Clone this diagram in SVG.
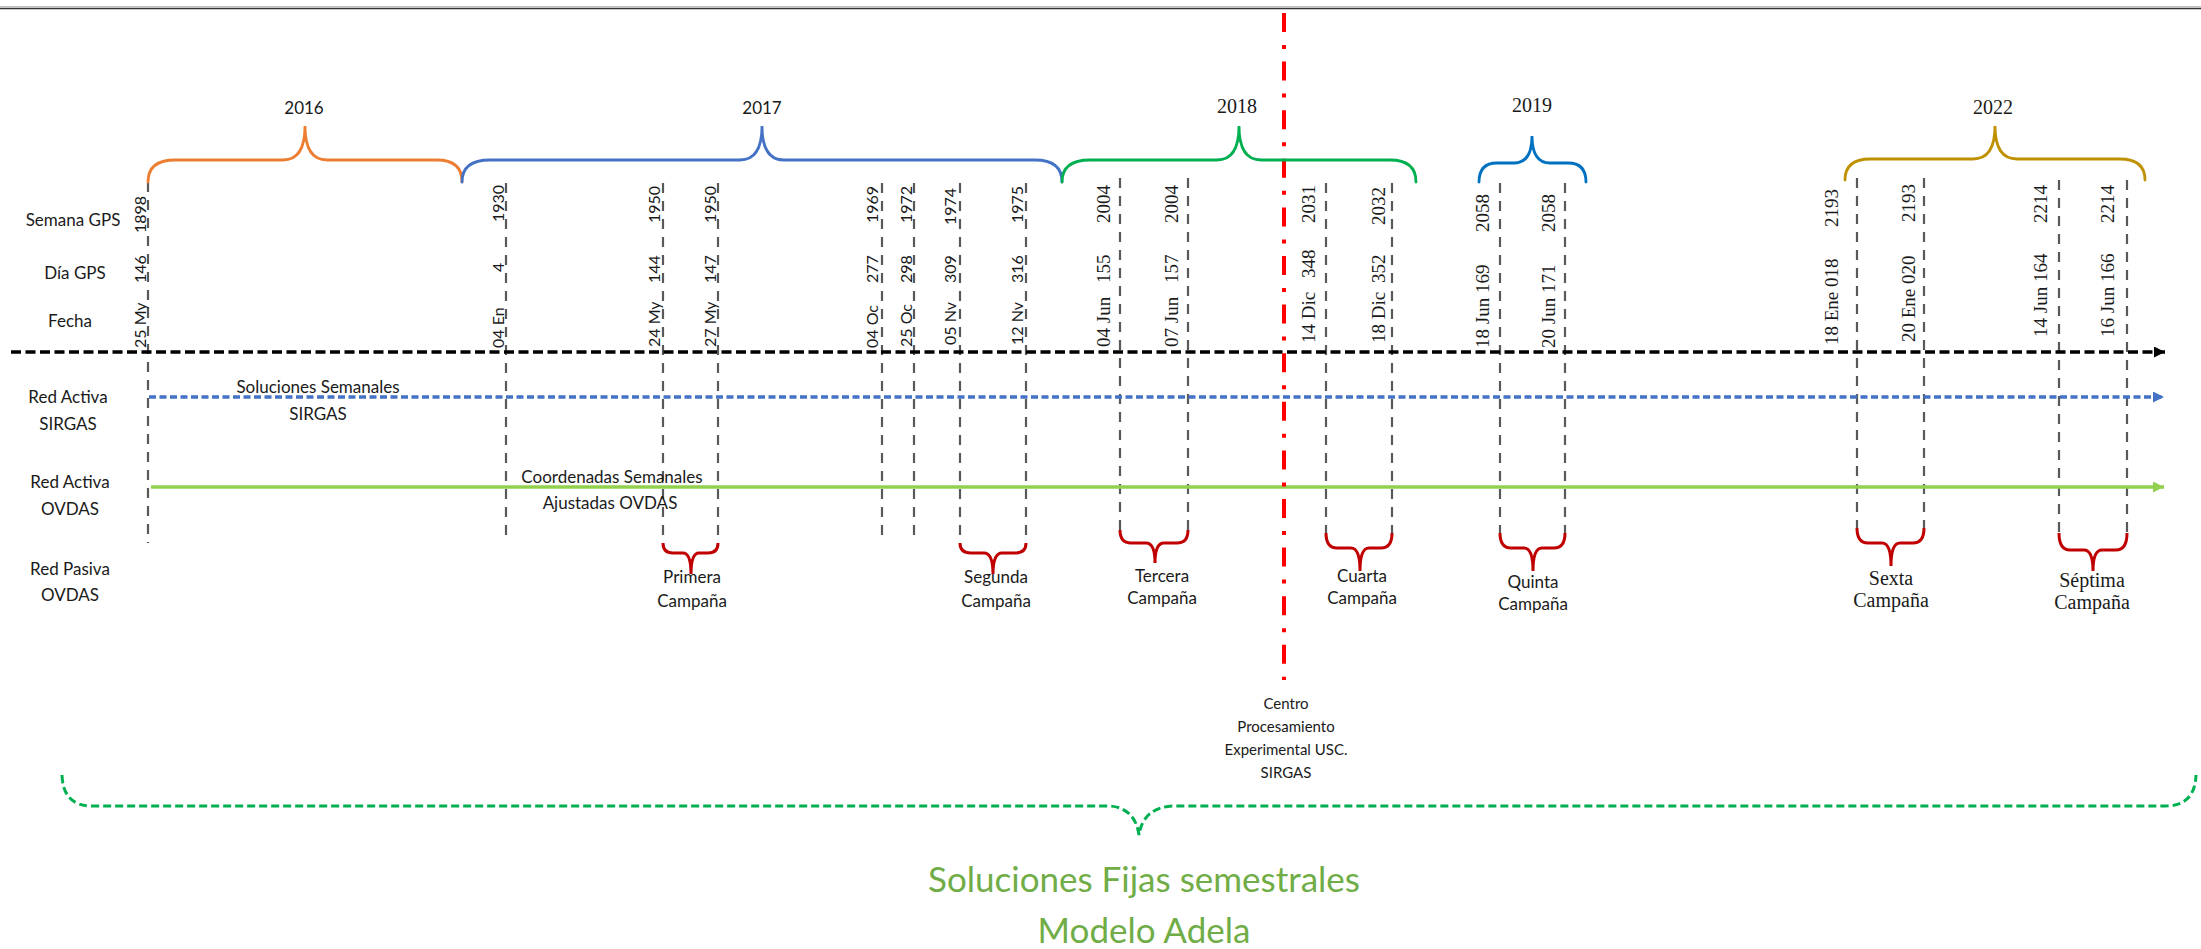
<svg xmlns="http://www.w3.org/2000/svg" width="2201" height="949" viewBox="0 0 2201 949">
<style>
.s{font-family:Lato,'Liberation Sans',sans-serif;font-size:17px;fill:#1a1a1a}
.t{font-family:'Liberation Serif','Times New Roman',serif;font-size:20px;fill:#1a1a1a}
.rs{font-family:Lato,'Liberation Sans',sans-serif;font-size:16px;fill:#1a1a1a}
.rt{font-family:'Liberation Serif','Times New Roman',serif;font-size:19px;fill:#1a1a1a}
.m{text-anchor:middle}
.vd{stroke:#595959;stroke-width:2.2;stroke-dasharray:10 8;fill:none}
.br{fill:none;stroke-width:2.8;stroke-linecap:round}
.cb{fill:none;stroke:#C00000;stroke-width:3}
.green{font-family:Lato,'Liberation Sans',sans-serif;font-size:35px;fill:#70AD47}
.ctr{font-family:Lato,'Liberation Sans',sans-serif;font-size:15px;fill:#1a1a1a}
</style>
<defs>
<marker id="arrK" viewBox="0 0 10 10" refX="10" refY="5" markerWidth="14" markerHeight="11" markerUnits="userSpaceOnUse" orient="auto"><path d="M0,0 L10,5 L0,10 z" fill="#000"/></marker>
<marker id="arrB" viewBox="0 0 10 10" refX="10" refY="5" markerWidth="11" markerHeight="11" markerUnits="userSpaceOnUse" orient="auto"><path d="M0,0 L10,5 L0,10 z" fill="#4472C4"/></marker>
<marker id="arrG" viewBox="0 0 10 10" refX="10" refY="5" markerWidth="11" markerHeight="11" markerUnits="userSpaceOnUse" orient="auto"><path d="M0,0 L10,5 L0,10 z" fill="#92D050"/></marker>
</defs>
<rect x="0" y="0" width="2201" height="949" fill="#fff"/>
<line x1="0" y1="7" x2="2201" y2="7" stroke="#8a8a8a" stroke-width="1.2"/>
<line x1="0" y1="8.6" x2="2201" y2="8.6" stroke="#333" stroke-width="1.4"/>

<g id="connectors">
  <line class="vd" x1="148" y1="182" x2="148" y2="543"/>
  <line class="vd" x1="506" y1="183" x2="506" y2="543"/>
  <line class="vd" x1="663" y1="183" x2="663" y2="543"/>
  <line class="vd" x1="718" y1="183" x2="718" y2="543"/>
  <line class="vd" x1="882" y1="183" x2="882" y2="543"/>
  <line class="vd" x1="914" y1="183" x2="914" y2="543"/>
  <line class="vd" x1="960" y1="183" x2="960" y2="543"/>
  <line class="vd" x1="1026" y1="183" x2="1026" y2="543"/>
  <line class="vd" x1="1120" y1="178" x2="1120" y2="530"/>
  <line class="vd" x1="1188" y1="178" x2="1188" y2="530"/>
  <line class="vd" x1="1326" y1="183" x2="1326" y2="533"/>
  <line class="vd" x1="1392" y1="183" x2="1392" y2="533"/>
  <line class="vd" x1="1500" y1="183" x2="1500" y2="533"/>
  <line class="vd" x1="1565" y1="183" x2="1565" y2="533"/>
  <line class="vd" x1="1857" y1="178" x2="1857" y2="528"/>
  <line class="vd" x1="1924" y1="178" x2="1924" y2="528"/>
  <line class="vd" x1="2059" y1="180" x2="2059" y2="533"/>
  <line class="vd" x1="2127" y1="180" x2="2127" y2="533"/>
  <line x1="11" y1="352" x2="2165" y2="352" stroke="#000" stroke-width="3.5" stroke-dasharray="10 4.5" marker-end="url(#arrK)"/>
  <line x1="149" y1="397" x2="2164" y2="397" stroke="#4472C4" stroke-width="3.5" stroke-dasharray="7 3.5" marker-end="url(#arrB)"/>
  <line x1="151" y1="487" x2="2164" y2="487" stroke="#92D050" stroke-width="3.5" marker-end="url(#arrG)"/>
  <line x1="1284" y1="13" x2="1284" y2="680" stroke="#FF0000" stroke-width="4" stroke-dasharray="19 13 4 12.6"/>
</g>

<g id="row-labels">
  <text class="s m" x="73" y="226">Semana GPS</text>
  <text class="s m" x="75" y="279">Día GPS</text>
  <text class="s m" x="70" y="327">Fecha</text>
  <text class="s m" x="68" y="403">Red Activa</text>
  <text class="s m" x="68" y="430">SIRGAS</text>
  <text class="s m" x="70" y="488">Red Activa</text>
  <text class="s m" x="70" y="515">OVDAS</text>
  <text class="s m" x="70" y="575">Red Pasiva</text>
  <text class="s m" x="70" y="601">OVDAS</text>
</g>

<g id="year-2016">
  <path class="br" stroke="#ED7D31" d="M148,182 Q148,160 175,160 L283,160 Q305,160 305,126 Q305,160 327,160 L437,160 Q462,160 462,182"/>
  <text class="s m" x="304" y="114">2016</text>
</g>
<g id="year-2017">
  <path class="br" stroke="#4472C4" d="M462,182 Q462,160 490,160 L740,160 Q762,160 762,126 Q762,160 784,160 L1035,160 Q1062,160 1062,182"/>
  <text class="s m" x="762" y="114">2017</text>
</g>
<g id="year-2018">
  <path class="br" stroke="#00B050" d="M1062,182 Q1062,160 1090,160 L1217,160 Q1239,160 1239,126 Q1239,160 1261,160 L1390,160 Q1416,160 1416,182"/>
  <text class="t m" x="1237" y="113">2018</text>
</g>
<g id="year-2019">
  <path class="br" stroke="#0070C0" d="M1479,182 Q1479,163 1497,163 L1514,163 Q1532,163 1532,136 Q1532,163 1550,163 L1568,163 Q1586,163 1586,182"/>
  <text class="t m" x="1532" y="112">2019</text>
</g>
<g id="year-2022">
  <path class="br" stroke="#BF9000" d="M1845,180 Q1845,159 1870,159 L1973,159 Q1995,159 1995,126 Q1995,159 2017,159 L2120,159 Q2145,159 2145,180"/>
  <text class="t m" x="1993" y="114">2022</text>
</g>

<g id="dates-sans">
  <text class="rs" transform="translate(146,348) rotate(-90)">25 My</text>
  <text class="rs" transform="translate(146,283) rotate(-90)">146</text>
  <text class="rs" transform="translate(146,233) rotate(-90)">1898</text>
  <text class="rs" transform="translate(504,348) rotate(-90)">04 En</text>
  <text class="rs" transform="translate(504,272) rotate(-90)">4</text>
  <text class="rs" transform="translate(504,222) rotate(-90)">1930</text>
  <text class="rs" transform="translate(660,347) rotate(-90)">24 My</text>
  <text class="rs" transform="translate(660,283) rotate(-90)">144</text>
  <text class="rs" transform="translate(660,223) rotate(-90)">1950</text>
  <text class="rs" transform="translate(716,347) rotate(-90)">27 My</text>
  <text class="rs" transform="translate(716,283) rotate(-90)">147</text>
  <text class="rs" transform="translate(716,223) rotate(-90)">1950</text>
  <text class="rs" transform="translate(878,348) rotate(-90)">04 Oc</text>
  <text class="rs" transform="translate(878,283) rotate(-90)">277</text>
  <text class="rs" transform="translate(878,223) rotate(-90)">1969</text>
  <text class="rs" transform="translate(912,347) rotate(-90)">25 Oc</text>
  <text class="rs" transform="translate(912,283) rotate(-90)">298</text>
  <text class="rs" transform="translate(912,223) rotate(-90)">1972</text>
  <text class="rs" transform="translate(956,345) rotate(-90)">05 Nv</text>
  <text class="rs" transform="translate(956,283) rotate(-90)">309</text>
  <text class="rs" transform="translate(956,225) rotate(-90)">1974</text>
  <text class="rs" transform="translate(1023,345) rotate(-90)">12 Nv</text>
  <text class="rs" transform="translate(1023,283) rotate(-90)">316</text>
  <text class="rs" transform="translate(1023,223) rotate(-90)">1975</text>
</g>

<g id="dates-serif">
  <text class="rt" transform="translate(1110,347) rotate(-90)">04 Jun</text>
  <text class="rt" transform="translate(1110,283) rotate(-90)">155</text>
  <text class="rt" transform="translate(1110,223) rotate(-90)">2004</text>
  <text class="rt" transform="translate(1178,347) rotate(-90)">07 Jun</text>
  <text class="rt" transform="translate(1178,283) rotate(-90)">157</text>
  <text class="rt" transform="translate(1178,223) rotate(-90)">2004</text>
  <text class="rt" transform="translate(1315,343) rotate(-90)">14 Dic</text>
  <text class="rt" transform="translate(1315,278) rotate(-90)">348</text>
  <text class="rt" transform="translate(1315,223) rotate(-90)">2031</text>
  <text class="rt" transform="translate(1385,343) rotate(-90)">18 Dic</text>
  <text class="rt" transform="translate(1385,283) rotate(-90)">352</text>
  <text class="rt" transform="translate(1385,225) rotate(-90)">2032</text>
  <text class="rt" transform="translate(1489,348) rotate(-90)">18 Jun 169</text>
  <text class="rt" transform="translate(1489,232) rotate(-90)">2058</text>
  <text class="rt" transform="translate(1555,348) rotate(-90)">20 Jun 171</text>
  <text class="rt" transform="translate(1555,232) rotate(-90)">2058</text>
  <text class="rt" transform="translate(1838,345) rotate(-90)">18 Ene 018</text>
  <text class="rt" transform="translate(1838,227) rotate(-90)">2193</text>
  <text class="rt" transform="translate(1915,342) rotate(-90)">20 Ene 020</text>
  <text class="rt" transform="translate(1915,222) rotate(-90)">2193</text>
  <text class="rt" transform="translate(2047,337) rotate(-90)">14 Jun 164</text>
  <text class="rt" transform="translate(2047,223) rotate(-90)">2214</text>
  <text class="rt" transform="translate(2114,337) rotate(-90)">16 Jun 166</text>
  <text class="rt" transform="translate(2114,223) rotate(-90)">2214</text>
</g>

<g id="label-sirgas">
  <text class="s m" x="318" y="393">Soluciones Semanales</text>
  <text class="s m" x="318" y="420">SIRGAS</text>
</g>
<g id="label-ovdas">
  <text class="s m" x="612" y="483">Coordenadas Semanales</text>
  <text class="s m" x="610" y="509">Ajustadas OVDAS</text>
</g>

<g id="campana-1">
  <path class="cb" d="M663,543 Q663,553 673,553 L683,553 Q691,553 691,574 Q691,553 699,553 L708,553 Q718,553 718,543"/>
  <text class="s m" x="692" y="583">Primera</text>
  <text class="s m" x="692" y="607">Campaña</text>
</g>
<g id="campana-2">
  <path class="cb" d="M960,543 Q960,553 971,553 L984,553 Q993,553 993,574 Q993,553 1002,553 L1015,553 Q1026,553 1026,543"/>
  <text class="s m" x="996" y="583">Segunda</text>
  <text class="s m" x="996" y="607">Campaña</text>
</g>
<g id="campana-3">
  <path class="cb" d="M1120,530 Q1120,543 1131,543 L1146,543 Q1155,543 1155,563 Q1155,543 1164,543 L1177,543 Q1188,543 1188,530"/>
  <text class="s m" x="1162" y="582">Tercera</text>
  <text class="s m" x="1162" y="604">Campaña</text>
</g>
<g id="campana-4">
  <path class="cb" d="M1326,533 Q1326,548 1337,548 L1351,548 Q1360,548 1360,571 Q1360,548 1369,548 L1381,548 Q1392,548 1392,533"/>
  <text class="s m" x="1362" y="582">Cuarta</text>
  <text class="s m" x="1362" y="604">Campaña</text>
</g>
<g id="campana-5">
  <path class="cb" d="M1500,533 Q1500,548 1511,548 L1524,548 Q1533,548 1533,571 Q1533,548 1542,548 L1554,548 Q1565,548 1565,533"/>
  <text class="s m" x="1533" y="588">Quinta</text>
  <text class="s m" x="1533" y="610">Campaña</text>
</g>
<g id="campana-6">
  <path class="cb" d="M1857,528 Q1857,543 1868,543 L1882,543 Q1891,543 1891,566 Q1891,543 1900,543 L1913,543 Q1924,543 1924,528"/>
  <text class="t m" x="1891" y="585">Sexta</text>
  <text class="t m" x="1891" y="607">Campaña</text>
</g>
<g id="campana-7">
  <path class="cb" d="M2059,533 Q2059,550 2070,550 L2084,550 Q2093,550 2093,571 Q2093,550 2102,550 L2116,550 Q2127,550 2127,533"/>
  <text class="t m" x="2092" y="587">Séptima</text>
  <text class="t m" x="2092" y="609">Campaña</text>
</g>

<g id="centro-label">
  <text class="ctr m" x="1286" y="709">Centro</text>
  <text class="ctr m" x="1286" y="732">Procesamiento</text>
  <text class="ctr m" x="1286" y="755">Experimental USC.</text>
  <text class="ctr m" x="1286" y="778">SIRGAS</text>
</g>

<g id="soluciones-fijas">
  <path fill="none" stroke="#00B050" stroke-width="3" stroke-dasharray="8 4" d="M62,775 Q63,806 92,806 L1110,806 Q1135,808 1139,835 Q1143,808 1172,806 L2165,806 Q2195,806 2196,775"/>
  <text class="green m" x="1144" y="892">Soluciones Fijas semestrales</text>
  <text class="green m" x="1144" y="943">Modelo Adela</text>
</g>
</svg>
